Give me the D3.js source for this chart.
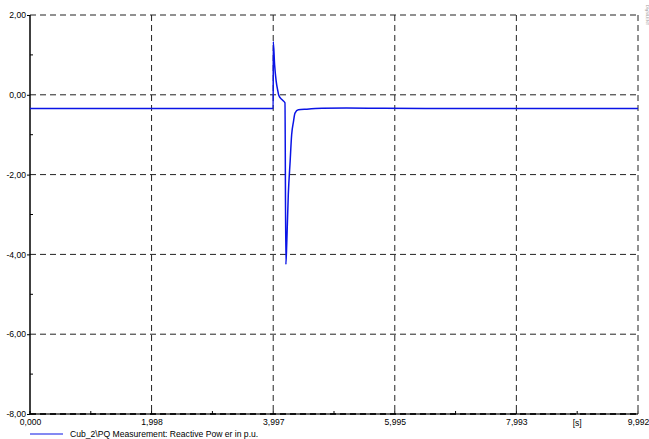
<!DOCTYPE html>
<html><head><meta charset="utf-8">
<script src="https://cdn.jsdelivr.net/npm/d3@7"></script>
<style>body{margin:0;background:#fff}svg{display:block}text{font-family:"Liberation Sans",Arial,sans-serif;}</style>
</head><body><svg id="c" width="649" height="439"></svg>
<script>
const timeS = [0, 3.997, 3.998, 4.02, 4.045, 4.07, 4.09, 4.14, 4.19, 4.205, 4.22, 4.245, 4.275, 4.30, 4.33, 4.355, 4.41, 4.55, 4.8, 5.2, 5.8, 6.5, 9.992];
const reactivePower = [-0.345, -0.345, 1.33, 0.75, 0.35, 0.12, -0.02, -0.12, -0.2, -4.25, -3.7, -2.5, -1.67, -1.0, -0.67, -0.46, -0.375, -0.36, -0.34, -0.33, -0.34, -0.345, -0.345];
const xTicks = [0, 1.998, 3.997, 5.995, 7.993, 9.992];
const xTickLabels = ["0,000", "1,998", "3,997", "5,995", "7,993", "9,992"];
const yTicks = [2, 0, -2, -4, -6, -8];
const yTickLabels = ["2,00", "0,00", "-2,00", "-4,00", "-6,00", "-8,00"];
const legendLabel = "Cub_2\\PQ Measurement: Reactive Pow er in p.u.";
const xUnit = "[s]";

const svg = d3.select("#c");
const L = 30, R = 638, T = 15, B = 414;
const FS = 8.6;
const x = d3.scaleLinear().domain([0, 9.992]).range([L, R]);
const y = d3.scaleLinear().domain([-8, 2]).range([B, T]);

// grid
const g = svg.append("g");
yTicks.forEach(v => {
  g.append("line").attr("x1", L).attr("x2", R).attr("y1", y(v)).attr("y2", y(v))
    .attr("stroke", "#222").attr("stroke-width", 1).attr("stroke-dasharray", "6,4");
});
xTicks.slice(1).forEach(v => {
  g.append("line").attr("x1", x(v)).attr("x2", x(v)).attr("y1", T).attr("y2", B)
    .attr("stroke", "#222").attr("stroke-width", 1).attr("stroke-dasharray", "6,4");
});

// axes lines
svg.append("line").attr("x1", L).attr("x2", L).attr("y1", T).attr("y2", B).attr("stroke", "#000").attr("stroke-width", 1.5);
svg.append("line").attr("x1", L).attr("x2", R).attr("y1", B).attr("y2", B).attr("stroke", "#333").attr("stroke-width", 1.5);
svg.append("line").attr("x1", L).attr("x2", R).attr("y1", B).attr("y2", B).attr("stroke", "#000").attr("stroke-width", 1.5).attr("stroke-dasharray", "6,4");

// y axis ticks
const yAxis = d3.axisLeft(y).tickValues(yTicks).tickSize(3).tickFormat((d, i) => yTickLabels[i]);
const ya = svg.append("g").attr("transform", `translate(${L},0)`).call(yAxis);
ya.select(".domain").remove();
ya.selectAll("text").attr("font-size", FS).attr("fill", "#000").attr("x", -4).attr("font-family", "Liberation Sans, Arial, sans-serif");
// minor y ticks
d3.range(-7, 2, 2).forEach(v => {
  svg.append("line").attr("x1", L).attr("x2", L + 3).attr("y1", y(v)).attr("y2", y(v)).attr("stroke", "#000");
});

// x axis
const xAxis = d3.axisBottom(x).tickValues(xTicks).tickSize(0).tickFormat((d, i) => xTickLabels[i]);
const xa = svg.append("g").attr("transform", `translate(0,${B})`).call(xAxis);
xa.select(".domain").remove();
xa.selectAll("text").attr("font-size", FS).attr("fill", "#000").attr("dy", "0.71em").attr("y", 5).attr("font-family", "Liberation Sans, Arial, sans-serif");
xTicks.forEach(v => {
  svg.append("line").attr("x1", x(v)).attr("x2", x(v)).attr("y1", B - 3).attr("y2", B).attr("stroke", "#000");
});
for (let i = 0; i < xTicks.length - 1; i++) {
  const m = (xTicks[i] + xTicks[i + 1]) / 2;
  svg.append("line").attr("x1", x(m)).attr("x2", x(m)).attr("y1", B - 3).attr("y2", B).attr("stroke", "#000");
}
svg.append("text").attr("x", x((xTicks[4] + xTicks[5]) / 2)).attr("y", B + 11.5).attr("text-anchor", "middle")
  .attr("font-size", FS).text(xUnit);

// data line
const line = d3.line().x((d, i) => x(timeS[i])).y(d => y(d)).curve(d3.curveMonotoneX);
svg.append("path").datum(reactivePower).attr("d", line).attr("fill", "none")
  .attr("stroke", "#0a14e6").attr("stroke-width", 1.5).attr("stroke-linejoin", "round");

// legend
svg.append("line").attr("x1", 30).attr("x2", 63).attr("y1", 434).attr("y2", 434).attr("stroke", "#0a14e6").attr("stroke-width", 1.2);
svg.append("text").attr("x", 70).attr("y", 436.5).attr("font-size", FS).text(legendLabel);

// corner mark
svg.append("text").attr("transform", "translate(646,5) rotate(90)").attr("font-size", 4).attr("fill", "#999").text("DIgSILENT");
</script></body></html>
